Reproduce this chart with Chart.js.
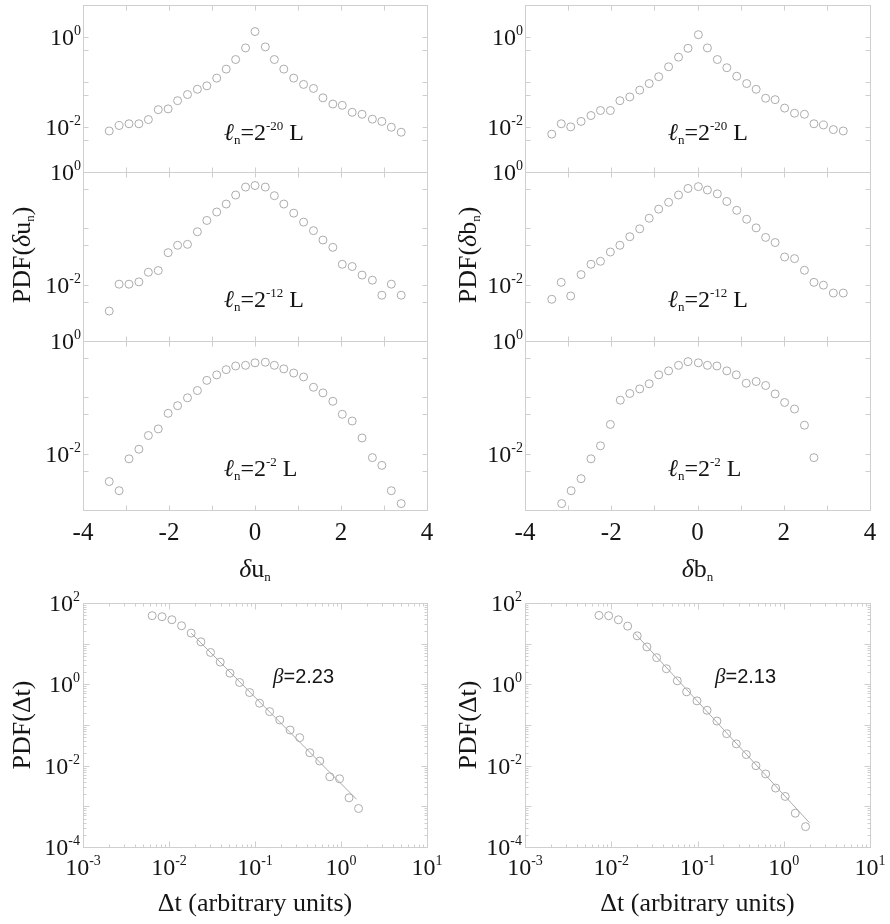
<!DOCTYPE html>
<html lang="en">
<head>
<meta charset="UTF-8">
<title>PDF panels</title>
<script src="https://cdn.jsdelivr.net/npm/chart.js@4"></script>
<style>
  html, body { margin: 0; padding: 0; background: #fff; }
  #wrap { position: relative; width: 890px; height: 924px; }
  #wrap canvas { position: absolute; left: 0; top: 0; }
</style>
</head>
<body>
<div id="wrap"></div>
<script>
// increments du_n, left column
const duBins  = [-3.39, -3.16, -2.93, -2.70, -2.48, -2.25, -2.02, -1.80, -1.57, -1.34, -1.12, -0.89, -0.67, -0.45, -0.22, 0.00,
                 0.24, 0.45, 0.67, 0.90, 1.13, 1.36, 1.58, 1.81, 2.03, 2.26, 2.49, 2.73, 2.95, 3.17, 3.40]
const pdfDu20 = [0.0081, 0.0107, 0.0117, 0.0117, 0.0145, 0.024, 0.025, 0.038, 0.052, 0.068, 0.081, 0.12, 0.19, 0.31, 0.56, 1.29,
                 0.59, 0.31, 0.19, 0.12, 0.087, 0.071, 0.044, 0.032, 0.030, 0.021, 0.019, 0.0148, 0.0132, 0.0098, 0.0076]
const pdfDu12 = [0.0034, 0.0102, 0.0102, 0.0112, 0.0166, 0.0178, 0.037, 0.050, 0.052, 0.087, 0.138, 0.195, 0.27, 0.39, 0.54, 0.575,
                 0.54, 0.38, 0.27, 0.186, 0.129, 0.091, 0.062, 0.046, 0.023, 0.021, 0.0148, 0.012, 0.0065, 0.0102, 0.0065]
const pdfDu2  = [0.0032, 0.0022, 0.0081, 0.012, 0.021, 0.0275, 0.052, 0.071, 0.098, 0.132, 0.20, 0.25, 0.31, 0.36, 0.37, 0.41,
                 0.42, 0.37, 0.32, 0.27, 0.23, 0.151, 0.12, 0.085, 0.050, 0.038, 0.019, 0.0085, 0.0062, 0.0022, 0.0013]

// increments db_n, right column
const dbBins  = [-3.38, -3.16, -2.94, -2.70, -2.47, -2.25, -2.02, -1.80, -1.57, -1.34, -1.12, -0.90, -0.67, -0.44, -0.22, 0.02,
                 0.23, 0.46, 0.68, 0.91, 1.14, 1.36, 1.58, 1.80, 2.02, 2.25, 2.48, 2.70, 2.92, 3.15, 3.38]
const pdfDb20 = [0.0069, 0.0117, 0.010, 0.0132, 0.0178, 0.023, 0.023, 0.038, 0.046, 0.065, 0.091, 0.129, 0.214, 0.35, 0.55, 1.10,
                 0.56, 0.31, 0.204, 0.132, 0.091, 0.068, 0.043, 0.040, 0.026, 0.020, 0.019, 0.0117, 0.011, 0.0087, 0.0081]
const pdfDb12 = [0.0055, 0.011, 0.0063, 0.0151, 0.023, 0.026, 0.038, 0.050, 0.071, 0.098, 0.151, 0.219, 0.29, 0.39, 0.51, 0.55,
                 0.48, 0.41, 0.30, 0.209, 0.145, 0.102, 0.069, 0.056, 0.031, 0.029, 0.018, 0.011, 0.0098, 0.0071, 0.0071]
const dbBins2 = [-3.15, -2.93, -2.70, -2.47, -2.25, -2.02, -1.79, -1.57, -1.34, -1.12, -0.90, -0.67, -0.44, -0.22, 0.02,
                 0.23, 0.45, 0.68, 0.90, 1.13, 1.36, 1.58, 1.80, 2.02, 2.25, 2.48, 2.70]
const pdfDb2  = [0.0013, 0.0022, 0.0036, 0.0081, 0.0138, 0.033, 0.089, 0.117, 0.141, 0.174, 0.251, 0.295, 0.37, 0.43, 0.41,
                 0.37, 0.36, 0.295, 0.251, 0.178, 0.191, 0.162, 0.115, 0.081, 0.062, 0.032, 0.0085]

// waiting times
const dtU    = [0.00637, 0.0083, 0.0108, 0.0140, 0.0181, 0.0235, 0.0304, 0.0394, 0.0512, 0.0662, 0.0867,
                0.113, 0.148, 0.194, 0.256, 0.331, 0.434, 0.566, 0.741, 0.962, 1.24, 1.60]
const pdfDtU = [48.8, 46.0, 38.8, 27.6, 18.2, 11.1, 6.08, 3.52, 1.88, 1.11, 0.628,
                0.343, 0.213, 0.133, 0.0753, 0.0489, 0.0208, 0.0130, 0.00533, 0.00476, 0.00162, 0.000885]
const fitUx  = [0.0181, 1.52]
const fitUy  = [18.2, 0.00149]
const dtB    = [0.00721, 0.00933, 0.0121, 0.0155, 0.0200, 0.0259, 0.0336, 0.0436, 0.0583, 0.0748, 0.0986,
                0.129, 0.168, 0.218, 0.282, 0.368, 0.476, 0.617, 0.805, 1.04, 1.36, 1.79]
const pdfDtB = [49.5, 48.6, 38.7, 27.0, 15.6, 8.32, 4.53, 2.42, 1.22, 0.653, 0.392,
                0.230, 0.125, 0.0610, 0.0344, 0.0188, 0.0100, 0.00625, 0.00281, 0.00175, 0.000678, 0.000317]
const fitBx  = [0.0188, 1.98]
const fitBy  = [17.9, 0.000398]

// ticks and tick labels
const linTicks   = [-4, -3, -2, -1, 0, 1, 2, 3, 4]
const linLabels  = ["-4", "-2", "0", "2", "4"]
const pdfTicks   = [1, 0.5, 0.1, 0.05, 0.01, 0.005]
const pdfLabels  = [0, -2]
const dtDecX     = [-3, -2, -1, 0, 1]
const dtDecY     = [-4, -3, -2, -1, 0, 1, 2]
const dtLabelsY  = [-4, -2, 0, 2]
const minorMults = [2, 3, 4, 5, 6, 7, 8, 9]

const FRAME = "#cfcfcf"
const DOT = "#ababab"
const INK = "#151515"
const SERIF = '"Liberation Serif", "DejaVu Serif", serif'
const SANS = '"Liberation Sans", Arial, sans-serif'

// parts: [text, size, rise, italic, family]
function richText(ctx, parts, x, y, align, rot) {
  ctx.save()
  ctx.translate(x, y)
  if (rot) ctx.rotate(rot)
  const fontOf = p => `${p[3] ? "italic " : ""}${p[1]}px ${p[4] || SERIF}`
  let w = 0
  for (const p of parts) { ctx.font = fontOf(p); w += ctx.measureText(p[0]).width }
  let cx = align === "center" ? -w / 2 : align === "right" ? -w : 0
  ctx.textAlign = "left"
  ctx.textBaseline = "alphabetic"
  ctx.fillStyle = INK
  for (const p of parts) {
    ctx.font = fontOf(p)
    ctx.fillText(p[0], cx, p[2])
    cx += ctx.measureText(p[0]).width
  }
  ctx.restore()
}

// "10" with a raised exponent, digits centred on y
const pow10 = (ctx, e, x, y, align) =>
  richText(ctx, [["10", 24, 0], [String(e), 14, -10]], x, y + 8, align)

const tickLine = (ctx, x1, y1, x2, y2) => {
  ctx.beginPath()
  ctx.moveTo(Math.round(x1) + 0.5, Math.round(y1) + 0.5)
  ctx.lineTo(Math.round(x2) + 0.5, Math.round(y2) + 0.5)
  ctx.stroke()
}

const framePlugin = {
  id: "frame",
  afterDraw(chart, args, o) {
    const { ctx, chartArea: a, scales: { x, y } } = chart
    ctx.save()
    ctx.strokeStyle = FRAME
    ctx.lineWidth = 1
    ctx.strokeRect(Math.round(a.left) + 0.5, Math.round(a.top) + 0.5, Math.round(a.width), Math.round(a.height))

    if (o.kind === "lin") {
      linTicks.forEach(v => {
        const px = x.getPixelForValue(v)
        tickLine(ctx, px, a.bottom, px, a.bottom - 5)
        tickLine(ctx, px, a.top, px, a.top + 5)
      })
      pdfTicks.forEach(v => {
        const py = y.getPixelForValue(v)
        if (py <= a.top + 1 || py >= a.bottom - 1) return
        tickLine(ctx, a.left, py, a.left + 5, py)
        tickLine(ctx, a.right, py, a.right - 5, py)
      })
      pdfLabels.forEach(e => pow10(ctx, e, a.left - 2, y.getPixelForValue(10 ** e), "right"))
      if (o.xLabels) {
        linLabels.forEach(t => richText(ctx, [[t, 25, 0]], x.getPixelForValue(Number(t)), a.bottom + 30, "center"))
      }
    } else {
      dtDecX.forEach(d => {
        const px = x.getPixelForValue(10 ** d)
        tickLine(ctx, px, a.bottom, px, a.bottom - 6)
        tickLine(ctx, px, a.top, px, a.top + 6)
        if (d < 1) minorMults.forEach(m => {
          const mx = x.getPixelForValue(m * 10 ** d)
          tickLine(ctx, mx, a.bottom, mx, a.bottom - 3)
          tickLine(ctx, mx, a.top, mx, a.top + 3)
        })
        pow10(ctx, d, px, a.bottom + 20, "center")
      })
      dtDecY.forEach(d => {
        const py = y.getPixelForValue(10 ** d)
        tickLine(ctx, a.left, py, a.left + 6, py)
        tickLine(ctx, a.right, py, a.right - 6, py)
        if (d < 2) minorMults.forEach(m => {
          const my = y.getPixelForValue(m * 10 ** d)
          tickLine(ctx, a.left, my, a.left + 3, my)
          tickLine(ctx, a.right, my, a.right - 3, my)
        })
      })
      dtLabelsY.forEach(d => pow10(ctx, d, a.left - 3, y.getPixelForValue(10 ** d), "right"))
    }

    if (o.note) richText(ctx, o.note, a.left + o.noteAt[0], a.top + o.noteAt[1], "left")
    if (o.yTitle) richText(ctx, o.yTitle, o.yTitleAt[0], o.yTitleAt[1], "center", -Math.PI / 2)
    if (o.xTitle) richText(ctx, o.xTitle, (a.left + a.right) / 2, o.xTitleY, "center")
    ctx.restore()
  }
}

const wrap = document.getElementById("wrap")
const pts = (xs, ys) => xs.map((v, i) => ({ x: v, y: ys[i] }))
const dots = (xs, ys) => ({
  data: pts(xs, ys), pointRadius: 4, pointBorderWidth: 1,
  pointBorderColor: DOT, pointBackgroundColor: "rgba(0,0,0,0)", showLine: false
})
const fit = (xs, ys) => ({ data: pts(xs, ys), pointRadius: 0, borderColor: DOT, borderWidth: 1, showLine: true })

function panel(rect, datasets, xScale, yScale, frame) {
  const c = document.createElement("canvas")
  c.width = 890
  c.height = 924
  wrap.appendChild(c)
  new Chart(c, {
    type: "scatter",
    data: { datasets },
    options: {
      responsive: false, animation: false, events: [],
      layout: { padding: { left: rect[0], top: rect[1], right: 890 - rect[2], bottom: 924 - rect[3] } },
      scales: { x: { ...xScale, display: false, bounds: "data" }, y: { ...yScale, display: false, bounds: "data" } },
      plugins: { legend: { display: false }, tooltip: { enabled: false }, frame }
    },
    plugins: [framePlugin]
  })
}

const linX = { type: "linear", min: -4, max: 4 }
const ell = e => [["\u2113", 24, 0, true], ["n", 13, 4], ["=2", 24, 0], [e, 13, -10], [" L", 24, 0]]
const cols = [
  { left: 83, right: 427, bins: [duBins, duBins, duBins], ys: [pdfDu20, pdfDu12, pdfDu2], v: "u", titleX: 30,
    dt: dtU, pdf: pdfDtU, fx: fitUx, fy: fitUy, beta: "2.23", noteX: 141 },
  { left: 525, right: 870, bins: [dbBins, dbBins, dbBins2], ys: [pdfDb20, pdfDb12, pdfDb2], v: "b", titleX: 476,
    dt: dtB, pdf: pdfDtB, fx: fitBx, fy: fitBy, beta: "2.13", noteX: 143 }
]
const rows = [[3, 172, 5, "-20"], [172, 341, 1, "-12"], [341, 510, 1, "-2"]]

cols.forEach(col => {
  rows.forEach((r, k) => {
    panel([col.left, r[0], col.right, r[1]], [dots(col.bins[k], col.ys[k])], linX,
      { type: "logarithmic", min: 0.001, max: r[2] },
      {
        kind: "lin", xLabels: k === 2, note: ell(r[3]), noteAt: [col.noteX, 135],
        yTitle: k === 1 ? [["PDF(", 26, 0], ["\u03b4", 26, 0, true], [col.v, 26, 0], ["n", 13, 4], [")", 26, 0]] : null,
        yTitleAt: [col.titleX, 255],
        xTitle: k === 2 ? [["\u03b4", 26, 0, true], [col.v, 26, 0], ["n", 13, 4]] : null, xTitleY: 577
      })
  })
  panel([col.left, 603, col.right, 847], [fit(col.fx, col.fy), dots(col.dt, col.pdf)],
    { type: "logarithmic", min: 0.001, max: 10 }, { type: "logarithmic", min: 0.0001, max: 100 },
    {
      kind: "log", note: [["\u03b2", 21, 0, true], ["=" + col.beta, 20, 0, false, SANS]], noteAt: [190, 80],
      yTitle: [["PDF(\u0394t)", 26, 0]], yTitleAt: [col.titleX, 725],
      xTitle: [["\u0394t (arbitrary units)", 26, 0]], xTitleY: 911
    })
})
</script>
</body>
</html>
